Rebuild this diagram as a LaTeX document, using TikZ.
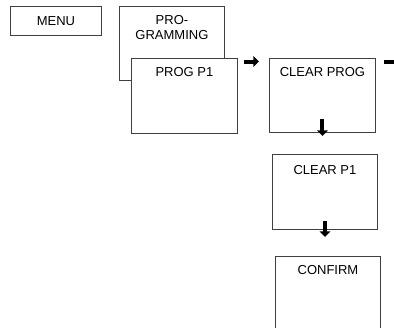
\documentclass[tikz,border=0pt]{standalone}
\usepackage{fontspec}
\setmainfont{Liberation Sans}
\usetikzlibrary{arrows.meta}
\tikzset{
  screen/.style={draw=black!75,line width=0.9pt,fill=white,anchor=north west,
    minimum width=106pt,minimum height=75pt,inner sep=0pt},
  title/.style={anchor=north,inner sep=0pt,yshift=-9.6pt,align=center},
  fatarrow/.style={line width=4pt,-{Triangle[length=5.5pt,width=10.5pt]}}
}
\begin{document}
\begin{tikzpicture}[x=1pt,y=1pt,font=\fontsize{13}{15}\selectfont]
\useasboundingbox (0,0) rectangle (394,-327);
\clip (0,0) rectangle (394,-327);
\node[draw=black!75,line width=0.9pt,anchor=north west,minimum width=91pt,minimum height=29pt]
  (menu) at (10,-6) {MENU};
\node[screen,minimum width=105pt,minimum height=74pt,label={[title]north:PRO-\\GRAMMING}]
  (progr) at (119,-6) {};
\node[screen,label={[title]north:PROG P1}] (progp1) at (131,-58) {};
\node[screen,minimum height=74pt,label={[title]north:CLEAR PROG}] (clrprog) at (269,-58) {};
\node[screen,minimum width=105pt,label={[title,yshift=-1.5pt]north:CLEAR P1}] (clrp1) at (272,-154) {};
\node[screen,minimum width=105pt,label={[title]north:CONFIRM}] (confirm) at (275,-256) {};
\coordinate (a1) at ([shift={(6,-3.5)}]progp1.north east);
\coordinate (a2) at ([shift={(8,-4)}]clrprog.north east);
\coordinate (a3) at ([yshift=14]clrprog.south);
\coordinate (a4) at ([yshift=9]clrp1.south);
\draw[fatarrow] (a1) -- ++(15,0);
\draw[fatarrow] (a2) -- ++(19,0);
\draw[fatarrow] (a3) -- ++(0,-17);
\draw[fatarrow] (a4) -- ++(0,-16);
\end{tikzpicture}
\end{document}
